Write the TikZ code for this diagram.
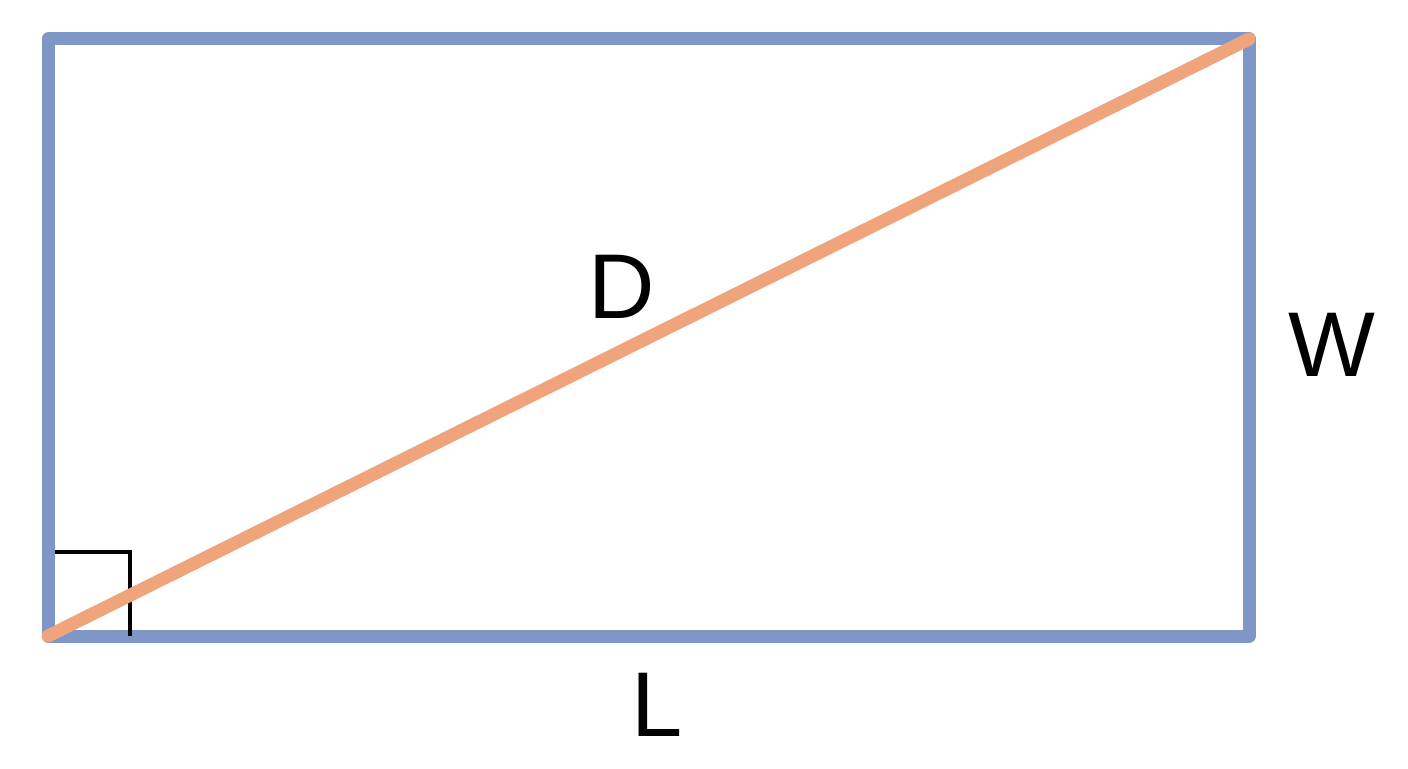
\documentclass[tikz,border=0pt]{standalone}
\usepackage{fontspec}
\setmainfont{Liberation Sans}
\usetikzlibrary{positioning,calc}
\definecolor{frameblue}{RGB}{127,151,198}
\definecolor{diagorange}{RGB}{240,164,124}

\begin{document}
\begin{tikzpicture}
        [x=0.5pt,y=0.5pt,label/.style={inner sep=0pt,font=\fontsize{46}{50}\selectfont},
         side/.style={line width=6.5pt,line join=round,line cap=round}]

        \useasboundingbox (0,0) rectangle (1408,768);

        \coordinate (bl) at (48,132);
        \coordinate (tr) at (1249,729);

        \draw[side,frameblue] (bl) rectangle (tr);
        \draw[line width=2pt] (55,216.5) -- (129.5,216.5) -- (129.5,132);
        \draw[side,diagorange] (bl) -- (tr);

        \node[label] (diag) at (622,481) {D};
        \node[label] (width) at (1332,423) {W};
        \node[label] (length) at (657,63) {L};

    \end{tikzpicture}
\end{document}
